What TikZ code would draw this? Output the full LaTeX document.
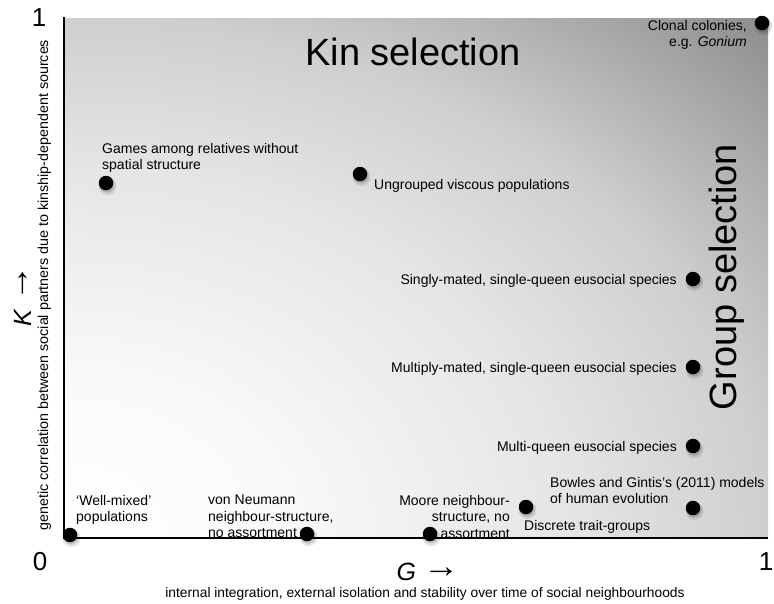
\documentclass[tikz,border=0pt]{standalone}
\usepackage{graphicx}
\usepackage{fontspec}
\setmainfont{Liberation Sans}
% the arrow that follows each axis letter, enlarged and centred on the capitals
\newcommand\axarrow{\raisebox{0.1em}{\scalebox{1.45}[1.35]{→}}}
\begin{document}
% Soft grey glow, white in the origin corner and darkest towards (1,1);
% 16.67bp corresponds to one plot width/height from the corner
\pgfdeclareradialshading{cornerglow}{\pgfpoint{0bp}{0bp}}{%
  color(0bp)=(white);
  color(5bp)=(white!98!black);
  color(11.8bp)=(white!90!black);
  color(16.7bp)=(white!81!black);
  color(23.6bp)=(white!55!black);
  color(25bp)=(white!53!black);
  color(50bp)=(white!53!black)}
\begin{tikzpicture}[x=1pt,y=-1pt,
  lbl/.style={font=\fontsize{14}{16.5}\selectfont, inner sep=0pt, align=left},
  lblr/.style={lbl, align=right},
  bigword/.style={font=\fontsize{38}{44}\selectfont, inner sep=0pt},
  ticknum/.style={font=\fontsize{26}{30}\selectfont, inner sep=0pt},
  axisname/.style={font=\fontsize{25}{30}\selectfont, inner sep=0pt},
  dotmark/.style={circle, fill=black, inner sep=0pt, minimum size=14.5pt},
  axisline/.style={line width=2.6pt}]
\useasboundingbox (0,0) rectangle (774,603);

% plotting region
\begin{scope}
  \clip (64,18) rectangle (768,538);
  \shade[shading=cornerglow] (64,538) ellipse [x radius=1056pt, y radius=780pt];
\end{scope}
\draw[axisline] (64,17) -- (64,538) -- (768,538);

% data points with a soft drop shadow
\foreach \nm/\px/\py in {wellmixed/70/535, neumann/307/534, moore/430/534,
    discrete/526/507, bowles/693/508, multiq/693/446, multiply/693/367,
    singly/693/279, viscous/360/174, games/106/183, clonal/762/23}{
  \fill[black, opacity=0.10] (\px+1.5,\py+3) circle (9pt);
  \fill[black, opacity=0.15] (\px+1,\py+2) circle (7.5pt);
  \node[dotmark] (\nm) at (\px,\py) {};
}

% point labels
\node[lbl, anchor=north west] (wellmixedl) at (76,494.8) {`Well-mixed'\\populations};
\node[lbl, anchor=north west] (neumannl) at (208,494.8) {von Neumann\\neighbour-structure,\\no assortment};
\node[lblr, anchor=north east] (moorel) at (510,494.8) {Moore neighbour-\\structure, no\\assortment};
\node[lbl, anchor=base west] (discretel) at (524,530) {Discrete trait-groups};
\node[lbl, anchor=north west] (bowlesl) at (550,476.8) {Bowles and Gintis's (2011) models\\of human evolution};
\node[lbl, anchor=base east] (multiql) at (677,451) {Multi-queen eusocial species};
\node[lbl, anchor=base east] (multiplyl) at (677,372) {Multiply-mated, single-queen eusocial species};
\node[lbl, anchor=base east] (singlyl) at (677,284) {Singly-mated, single-queen eusocial species};
\node[lbl, anchor=base west] (viscousl) at (374,189) {Ungrouped viscous populations};
\node[lbl, anchor=north west] (gamesl) at (102,142.8) {Games among relatives without\\spatial structure};
\node[lblr, anchor=north east] (clonall) at (747,19.8) {Clonal colonies,\\e.g. \textit{Gonium}};

% region names
\node[bigword, anchor=base] (kinsel) at (413,65) {Kin selection};
\node[bigword, anchor=base, rotate=90] (groupsel) at (736,277) {Group selection};

% axis ends and names
\node[ticknum, anchor=base] (yone) at (39,26) {1};
\node[ticknum, anchor=base] (zero) at (40,570) {0};
\node[ticknum, anchor=base] (xone) at (766,570) {1};
\node[axisname, anchor=base] (gname) at (428,580) {\textit{G} \axarrow};
\node[axisname, anchor=base, rotate=90] (kname) at (31,296) {\textit{K} \axarrow};
\node[lbl, font=\fontsize{13.8}{16}\selectfont, anchor=base] (xdesc) at (425,597) {internal integration, external isolation and stability over time of social neighbourhoods};
\node[lbl, font=\fontsize{14.3}{17}\selectfont, anchor=base, rotate=90] (ydesc) at (48,285) {genetic correlation between social partners due to kinship-dependent sources};
\end{tikzpicture}
\end{document}
